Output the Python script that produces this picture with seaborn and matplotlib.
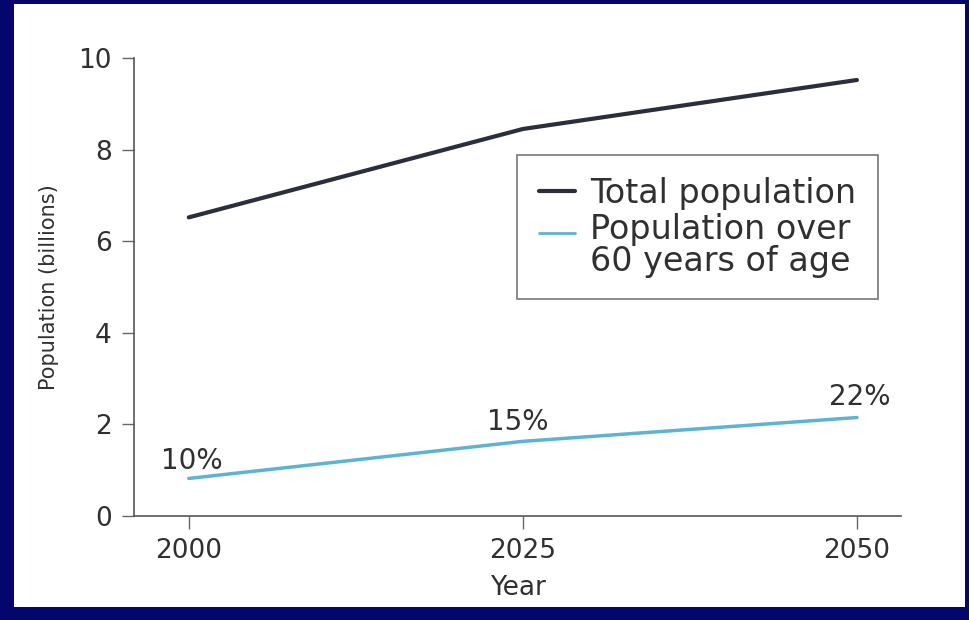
import matplotlib
matplotlib.use("Agg")
import matplotlib.pyplot as plt
import seaborn as sns
import pandas as pd
from matplotlib.patches import Rectangle

years = [2000, 2025, 2050]
total_population = [6.52, 8.45, 9.52]
over60_population = [0.82, 1.63, 2.15]
over60_share = ["10%", "15%", "22%"]
yticks = [0, 2, 4, 6, 8, 10]
series_names = ["Total population", "Population over\n60 years of age"]

df = pd.DataFrame({
    "Year": years * 2,
    "Population": total_population + over60_population,
    "Series": [series_names[0]] * 3 + [series_names[1]] * 3,
})

sns.set_theme(style="white")
plt.rcParams['font.family'] = ['DejaVu Sans']

TXT = "#303030"
W, H = 969, 620
fig = plt.figure(figsize=(W / 100, H / 100), dpi=100, facecolor="#05056e")
fig.patches.append(Rectangle((14 / W, (H - 607) / H), (965 - 14) / W, (607 - 4) / H,
                             transform=fig.transFigure, facecolor="white",
                             edgecolor="none", zorder=-10))

ax = fig.add_axes([134 / W, (H - 516) / H, (901 - 134) / W, (516 - 58) / H])
ax.set_facecolor("none")
ax.set_zorder(5)

sns.lineplot(data=df, x="Year", y="Population", hue="Series",
             palette=["#2b2e3c", "#5db4d2"], ax=ax, legend=True)
for ln, lw in zip(ax.lines[:2], [3.0, 2.5]):
    ln.set_linewidth(lw)

ax.set_xlim(1995.9, 2053.3)
ax.set_ylim(0, 10)
ax.set_xticks(years)
ax.set_yticks(yticks)
ax.tick_params(axis="both", which="major", direction="out", length=9, width=1,
               color="#666666", labelsize=19, labelcolor=TXT, pad=7,
               left=True, bottom=True)
for s in ["top", "right"]:
    ax.spines[s].set_visible(False)
for s in ["left", "bottom"]:
    ax.spines[s].set_color("#555555")
    ax.spines[s].set_linewidth(1.2)

ax.set_xlabel("Year", fontsize=19, color=TXT, labelpad=8)
ax.set_ylabel("Population (billions)", fontsize=15, color=TXT, labelpad=14)

offsets = [(3, 0.38), (-5, 0.43), (3, 0.45)]
for x, y, lab, (dx, dy) in zip(years, over60_population, over60_share, offsets):
    ax.text(x + dx / 13.36, y + dy, lab, ha="center", va="center",
            fontsize=20, color=TXT)

leg = ax.legend(loc="upper left", bbox_to_anchor=(517 / W, (H - 155) / H),
                bbox_transform=fig.transFigure, fontsize=24, frameon=True,
                fancybox=False, edgecolor="#555555", handlelength=1.1,
                handletextpad=0.45, borderpad=0.65, labelspacing=0.1,
                borderaxespad=0)
leg.get_frame().set_linewidth(1.2)
for t in leg.get_texts():
    t.set_color(TXT)
    t.set_linespacing(0.95)
for i, (h, lw) in enumerate(zip(leg.get_lines(), [3.0, 2.0])):
    h.set_linewidth(lw)
    if i == 1:
        h.set_ydata([v + 10 for v in h.get_ydata()])

fig.savefig("out.png", dpi=100, facecolor=fig.get_facecolor())
